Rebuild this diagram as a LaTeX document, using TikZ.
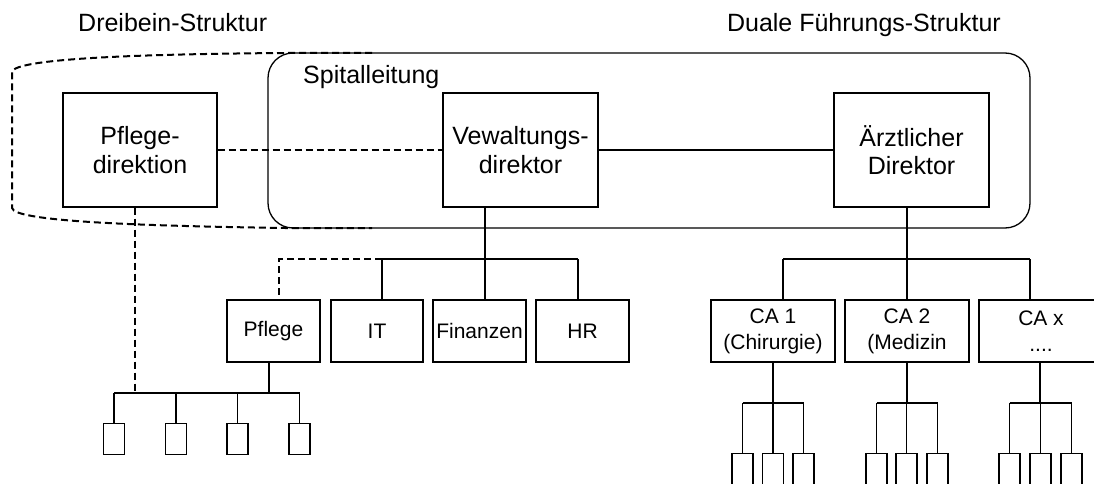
\documentclass[tikz,border=0pt]{standalone}
\usepackage{fontspec}
\setmainfont{Liberation Sans}
\begin{document}
\begin{tikzpicture}[x=1pt,y=-1pt,
  big/.style={draw,line width=1.3pt,inner sep=0pt,align=center,font=\fontsize{25}{28.5}\selectfont},
  small/.style={draw,line width=1.3pt,inner sep=0pt,align=center,font=\fontsize{21}{26}\selectfont},
  leaf/.style={draw,line width=1.3pt,inner sep=0pt,minimum width=21pt,minimum height=31pt},
  conn/.style={line width=1.3pt},
  dconn/.style={line width=2pt,dash pattern=on 7pt off 4pt},
  title/.style={inner sep=0pt,font=\fontsize{25}{28.5}\selectfont}]
\useasboundingbox (0,0) rectangle (1094,484);
\clip (0,0) rectangle (1094,484);
\fill[white] (0,0) rectangle (1094,484);

% titles
\node[title,anchor=base west] (t1) at (78,32) {Dreibein-Struktur};
\node[title,anchor=base east] (t2) at (1001,32) {Duale Führungs-Struktur};

% outer dashed Dreibein shape
\draw[dconn] (372,53) -- (285,53) .. controls (150,54) and (14,58) .. (12,72)
  -- (12,208) .. controls (14,222) and (150,226) .. (285,228) -- (372,228);

% Spitalleitung container
\node[draw,line width=1.3pt,rounded corners=25pt,minimum width=762pt,minimum height=175pt,inner sep=0pt] (sl) at (649,140.5) {};
\node[title,anchor=base west] (slt) at (303,84) {Spitalleitung};

% top boxes
\node[big,minimum width=154pt,minimum height=114pt] (pd) at (140,150) {Pflege-\\direktion};
\node[big,minimum width=155pt,minimum height=114pt] (vd) at (520.5,150) {Vewaltungs-\\direktor};
\node[big,minimum width=155pt,minimum height=114pt] (ad) at (911.5,150) {Ärztlicher\\Direktor};

% second level boxes
\node[small,minimum width=93pt,minimum height=62pt] (pf) at (273.5,331) {Pflege};
\node[small,minimum width=92pt,minimum height=62pt] (it) at (377,331) {IT};
\node[small,minimum width=93pt,minimum height=62pt] (fi) at (479.5,331) {Finanzen};
\node[small,minimum width=93pt,minimum height=62pt] (hr) at (582.5,331) {HR};
\node[small,minimum width=124pt,minimum height=62pt] (ca1) at (773,331) {CA 1\\(Chirurgie)};
\node[small,minimum width=124pt,minimum height=62pt] (ca2) at (907,331) {CA 2\\(Medizin};
\node[small,minimum width=124pt,minimum height=62pt] (cax) at (1041,331) {CA x\\....};

% leaves under Pflege
\node[leaf,anchor=north] (p1) at (114,423) {};
\node[leaf,anchor=north] (p2) at (176,423) {};
\node[leaf,anchor=north] (p3) at (237.5,423) {};
\node[leaf,anchor=north] (p4) at (299.5,423) {};
% leaves under CA
\node[leaf,anchor=north,minimum height=50pt] (c11) at (742.5,453) {};
\node[leaf,anchor=north,minimum height=50pt] (c12) at (773,453) {};
\node[leaf,anchor=north,minimum height=50pt] (c13) at (803.5,453) {};
\node[leaf,anchor=north,minimum height=50pt] (c21) at (876.5,453) {};
\node[leaf,anchor=north,minimum height=50pt] (c22) at (906.5,453) {};
\node[leaf,anchor=north,minimum height=50pt] (c23) at (937.5,453) {};
\node[leaf,anchor=north,minimum height=50pt] (c31) at (1009.5,453) {};
\node[leaf,anchor=north,minimum height=50pt] (c32) at (1040.5,453) {};
\node[leaf,anchor=north,minimum height=50pt] (c33) at (1071.5,453) {};

% junction coordinates
\coordinate (jv) at (485,259);
\coordinate (jit) at (382,259);
\coordinate (jhr) at (578,259);
\coordinate (jpf) at (279,259);
\coordinate (ja) at (907,259);
\coordinate (jc1) at (783,259);
\coordinate (jcx) at (1030,259);
\coordinate (jp) at (269,393);
\coordinate (jpd) at (135,393);
\coordinate (k1) at (773,403);
\coordinate (k2) at (907,403);
\coordinate (k3) at (1040,403);

% top level connectors
\draw[conn] (vd.east) -- (ad.west);
\draw[dconn] (pd.east) -- (vd.west);

% Verwaltung tree
\draw[conn] (vd.south -| jv) -- (jv);
\draw[conn] (jit) -- (jhr);
\draw[conn] (jit) -- (it.north -| jit);
\draw[conn] (jv) -- (fi.north -| jv);
\draw[conn] (jhr) -- (hr.north -| jhr);
\draw[dconn] (jit) -- (jpf) -- (pf.north -| jpf);

% Pflege leaves
\draw[conn] (pf.south -| jp) -- (jp);
\draw[conn] (p1.north |- jp) -- (p4.north |- jp);
\foreach \n in {p1,p2,p3,p4} \draw[conn] (\n.north |- jp) -- (\n.north);
\draw[dconn] (pd.south -| jpd) -- (jpd);

% Aerztlicher tree
\draw[conn] (ad.south -| ja) -- (ja);
\draw[conn] (jc1) -- (jcx);
\draw[conn] (jc1) -- (ca1.north -| jc1);
\draw[conn] (ja) -- (ca2.north -| ja);
\draw[conn] (jcx) -- (cax.north -| jcx);

% CA leaves
\draw[conn] (ca1.south -| k1) -- (k1);
\draw[conn] (c11.north |- k1) -- (c13.north |- k1);
\foreach \n in {c11,c12,c13} \draw[conn] (\n.north |- k1) -- (\n.north);
\draw[conn] (ca2.south -| k2) -- (k2);
\draw[conn] (c21.north |- k2) -- (c23.north |- k2);
\foreach \n in {c21,c22,c23} \draw[conn] (\n.north |- k2) -- (\n.north);
\draw[conn] (cax.south -| k3) -- (k3);
\draw[conn] (c31.north |- k3) -- (c33.north |- k3);
\foreach \n in {c31,c32,c33} \draw[conn] (\n.north |- k3) -- (\n.north);
\end{tikzpicture}
\end{document}
